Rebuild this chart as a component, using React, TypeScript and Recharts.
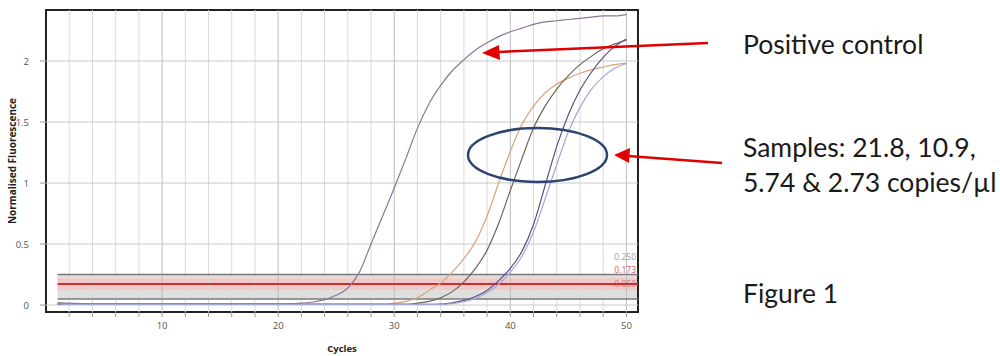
import React from 'react';
import { LineChart, Line, XAxis, YAxis, ReferenceLine, ReferenceArea } from 'recharts';

const cycles = [1, 2, 3, 4, 5, 6, 7, 8, 9, 10, 11, 12, 13, 14, 15, 16, 17, 18, 19, 20, 21, 22, 23, 24, 25, 26, 27, 28, 29, 30, 31, 32, 33, 34, 35, 36, 37, 38, 39, 40, 41, 42, 43, 44, 45, 46, 47, 48, 49, 50];

const positiveControl = [0.02, 0.015, 0.012, 0.01, 0.01, 0.01, 0.01, 0.01, 0.01, 0.01, 0.01, 0.01, 0.01, 0.01, 0.01, 0.01, 0.01, 0.01, 0.01, 0.01, 0.01, 0.015, 0.025, 0.045, 0.08, 0.14, 0.27, 0.5, 0.73, 0.96, 1.2, 1.45, 1.65, 1.8, 1.92, 2.01, 2.09, 2.15, 2.2, 2.24, 2.27, 2.3, 2.32, 2.33, 2.34, 2.35, 2.36, 2.37, 2.37, 2.38];

const sample21_8 = [0.01, 0.005, 0.005, 0.005, 0.005, 0.005, 0.005, 0.005, 0.005, 0.005, 0.005, 0.005, 0.005, 0.005, 0.005, 0.005, 0.005, 0.005, 0.005, 0.005, 0.005, 0.005, 0.005, 0.005, 0.005, 0.005, 0.005, 0.005, 0.005, 0.015, 0.03, 0.06, 0.12, 0.18, 0.27, 0.38, 0.52, 0.73, 1.0, 1.26, 1.48, 1.63, 1.74, 1.81, 1.86, 1.9, 1.93, 1.95, 1.97, 1.98];

const sample10_9 = [0.01, 0.005, 0.005, 0.005, 0.005, 0.005, 0.005, 0.005, 0.005, 0.005, 0.005, 0.005, 0.005, 0.005, 0.005, 0.005, 0.005, 0.005, 0.005, 0.005, 0.005, 0.005, 0.005, 0.005, 0.005, 0.005, 0.005, 0.005, 0.005, 0.005, 0.005, 0.015, 0.03, 0.06, 0.11, 0.19, 0.3, 0.45, 0.67, 0.94, 1.2, 1.45, 1.63, 1.77, 1.88, 1.97, 2.04, 2.1, 2.14, 2.17];

const sample5_74 = [0.01, 0.005, 0.005, 0.005, 0.005, 0.005, 0.005, 0.005, 0.005, 0.005, 0.005, 0.005, 0.005, 0.005, 0.005, 0.005, 0.005, 0.005, 0.005, 0.005, 0.005, 0.005, 0.005, 0.005, 0.005, 0.005, 0.005, 0.005, 0.005, 0.005, 0.005, 0.005, 0.005, 0.008, 0.018, 0.038, 0.07, 0.12, 0.2, 0.3, 0.44, 0.66, 0.98, 1.3, 1.56, 1.76, 1.91, 2.03, 2.12, 2.18];

const sample2_73 = [0.01, 0.005, 0.005, 0.005, 0.005, 0.005, 0.005, 0.005, 0.005, 0.005, 0.005, 0.005, 0.005, 0.005, 0.005, 0.005, 0.005, 0.005, 0.005, 0.005, 0.005, 0.005, 0.005, 0.005, 0.005, 0.005, 0.005, 0.005, 0.005, 0.005, 0.005, 0.005, 0.005, 0.006, 0.012, 0.027, 0.055, 0.1, 0.17, 0.27, 0.4, 0.6, 0.87, 1.15, 1.42, 1.62, 1.77, 1.87, 1.94, 1.98];

const xGridTicks = [2, 4, 6, 8, 10, 12, 14, 16, 18, 20, 22, 24, 26, 28, 30, 32, 34, 36, 38, 40, 42, 44, 46, 48, 50];
const xLabelTicks = [10, 20, 30, 40, 50];
const yTicks = [0, 0.5, 1, 1.5, 2];
const xDomain = [0, 51];
const yDomain = [-0.057, 2.418];

const thresholdUpper = 0.25;
const thresholdValue = 0.173;
const thresholdLower = 0.05;
const thresholdStart = 1;
const thresholdBandLow = 0.125;
const thresholdBandHigh = 0.22;

const seriesList = [
  { key: 'pc', values: positiveControl, color: '#8b7896' },
  { key: 's1', values: sample21_8, color: '#d6a47a' },
  { key: 's2', values: sample10_9, color: '#6c6654' },
  { key: 's3', values: sample5_74, color: '#5f4f80' },
  { key: 's4', values: sample2_73, color: '#9fa8d2' },
];

const data = cycles.map((c, i) => {
  const row: Record<string, number> = { cycle: c };
  seriesList.forEach((s) => {
    row[s.key] = s.values[i];
  });
  return row;
});

const axisFont = '"Open Sans", "DejaVu Sans", sans-serif';
const annFont = 'Lato, "Open Sans", sans-serif';

const XTick = (props: any) => {
  const { x, y, payload } = props;
  if (!xLabelTicks.includes(payload.value)) return null;
  return (
    <text x={x} y={y + 10} textAnchor="middle" fontSize={9.5} fill="#555" fontFamily={axisFont}>
      {payload.value}
    </text>
  );
};

const YTick = (props: any) => {
  const { x, y, payload } = props;
  return (
    <text x={x - 9} y={y + 3.5} textAnchor="end" fontSize={9.5} fill="#555" fontFamily={axisFont}>
      {payload.value}
    </text>
  );
};

const makeThresholdLabel = (text: string, color: string, dy: number) => (props: any) => {
  const vb = props.viewBox || {};
  const x = (vb.x || 0) + (vb.width || 0) - 2;
  const y = (vb.y || 0) + dy;
  return (
    <text x={x} y={y} textAnchor="end" fontSize={8.5} fill={color} fontFamily={axisFont} opacity={0.8}>
      {text}
    </text>
  );
};

export default function App() {
  return (
    <div style={{ position: 'absolute', left: 0, top: 0, width: 1000, height: 356, background: '#fff' }}>
      <LineChart width={1000} height={356} data={data} margin={{ top: 10, right: 362, bottom: 14, left: 10 }}>
        <XAxis
          type="number"
          dataKey="cycle"
          domain={xDomain}
          ticks={xGridTicks}
          interval={0}
          allowDataOverflow
          height={30}
          tickSize={5}
          axisLine={false}
          tickLine={{ stroke: '#999' }}
          tick={<XTick />}
          label={{ value: 'Cycles', position: 'insideBottom', offset: -10, fontSize: 9.5, fontWeight: 700, fill: '#222', fontFamily: axisFont }}
        />
        <YAxis
          type="number"
          domain={yDomain}
          ticks={yTicks}
          interval={0}
          allowDataOverflow
          width={36}
          tickSize={6}
          axisLine={false}
          tickLine={{ stroke: '#999' }}
          tick={<YTick />}
          label={{ value: 'Normalised Fluorescence', angle: -90, position: 'insideLeft', offset: 2, fontSize: 10, fontWeight: 700, fill: '#222', fontFamily: axisFont, style: { textAnchor: 'middle' } }}
        />
        {xGridTicks.map((v) => (
          <ReferenceLine key={'gx' + v} x={v} stroke={v % 10 === 0 ? '#bcbcbc' : '#dadada'} strokeWidth={1} />
        ))}
        {yTicks.map((v) => (
          <ReferenceLine key={'gy' + v} y={v} stroke="#c8c8c8" strokeWidth={1} />
        ))}
        <ReferenceArea x1={thresholdStart} x2={xDomain[1]} y1={thresholdLower} y2={thresholdUpper} fill="#d9d9d9" fillOpacity={0.85} stroke="none" ifOverflow="visible" />
        <ReferenceArea x1={thresholdStart} x2={xDomain[1]} y1={thresholdBandLow} y2={thresholdBandHigh} fill="#f6c5c5" fillOpacity={0.9} stroke="none" ifOverflow="visible" />
        <ReferenceLine
          segment={[{ x: thresholdStart, y: thresholdUpper }, { x: xDomain[1], y: thresholdUpper }]}
          stroke="#7a7a7a"
          strokeWidth={1.5}
          label={makeThresholdLabel('0.250', '#888', -15)}
        />
        <ReferenceLine
          segment={[{ x: thresholdStart, y: thresholdLower }, { x: xDomain[1], y: thresholdLower }]}
          stroke="#7a7a7a"
          strokeWidth={1.5}
          label={makeThresholdLabel('0.050', '#c66', -12)}
        />
        <ReferenceLine
          segment={[{ x: thresholdStart, y: thresholdValue }, { x: xDomain[1], y: thresholdValue }]}
          stroke="#c4302b"
          strokeWidth={2}
          label={makeThresholdLabel('0.173', '#b33', -11)}
        />
        {seriesList.map((s) => (
          <Line
            key={s.key}
            type="monotone"
            dataKey={s.key}
            stroke={s.color}
            strokeWidth={1.2}
            dot={false}
            activeDot={false}
            isAnimationActive={false}
          />
        ))}
        <ReferenceArea x1={xDomain[0]} x2={xDomain[1]} y1={yDomain[0]} y2={yDomain[1]} fill="none" stroke="#222" strokeWidth={2} ifOverflow="visible" />
      </LineChart>
      <svg width={1000} height={356} style={{ position: 'absolute', left: 0, top: 0, pointerEvents: 'none' }}>
        <ellipse cx={537.5} cy={155} rx={69.5} ry={27} fill="none" stroke="#2e4470" strokeWidth={2.5} />
        <line x1={708} y1={43} x2={496} y2={52} stroke="#e00000" strokeWidth={2.5} />
        <polygon points="482,53 499,45 500,60" fill="#e00000" />
        <line x1={722} y1={163} x2={628} y2={156} stroke="#e00000" strokeWidth={2.5} />
        <polygon points="614,155 630,148 629,163" fill="#e00000" />
        <g fontFamily={annFont} fill="#1a1a1a" fontSize={26.5}>
          <text x={743} y={54}>Positive control</text>
          <text x={743} y={157}>Samples: 21.8, 10.9,</text>
          <text x={743} y={192}>5.74 &amp; 2.73 copies/µl</text>
          <text x={743} y={303}>Figure 1</text>
        </g>
      </svg>
    </div>
  );
}
